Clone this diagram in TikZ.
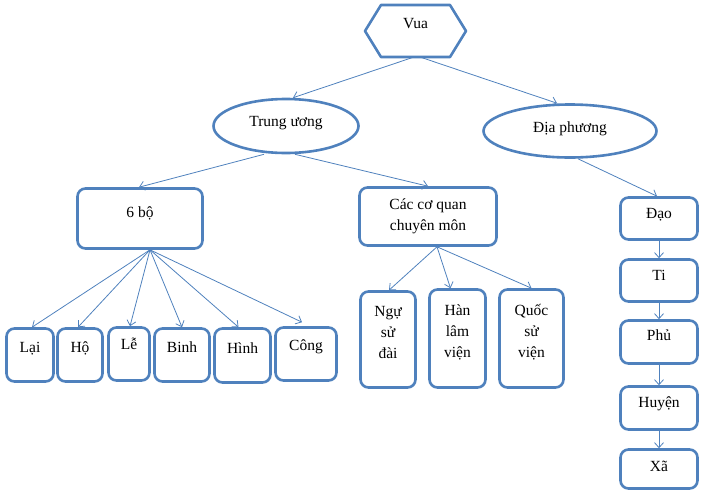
\documentclass[tikz,border=0pt]{standalone}
\usepackage{fontspec}
\setmainfont{Liberation Serif}
\usetikzlibrary{shapes.geometric,arrows.meta}
\definecolor{ob}{RGB}{79,129,189}
\newcommand{\tx}[2]{\raisebox{#1}[0pt][0pt]{\begin{tabular}{@{}c@{}}#2\end{tabular}}}
\begin{document}
\begin{tikzpicture}[x=1pt,y=-1pt,
  font=\fontsize{15.5}{21}\selectfont,
  box/.style={draw=ob, line width=2.6pt, rounded corners=8pt, fill=white, inner sep=0pt},
  oval/.style={ellipse, draw=ob, line width=2.6pt, fill=white, inner sep=0pt},
  arr/.style={draw=ob, line width=0.8pt, -{Straight Barb[length=5pt,width=9pt]}}]
\useasboundingbox (0,0) rectangle (708,496);
% King
\draw[draw=ob, line width=2.6pt, line join=round, fill=white]
  (365,31) -- (381,5) -- (450,5) -- (466,31) -- (450,57) -- (381,57) -- cycle;
\node[inner sep=0pt, minimum width=101pt, minimum height=52pt] (vua) at (415.5,31) {\tx{3pt}{Vua}};
% level 2
\node[oval, minimum width=145pt, minimum height=54pt] (tw) at (286,126) {\tx{0pt}{Trung ương}};
\node[oval, minimum width=173pt, minimum height=53pt] (dp) at (570,131) {\tx{-1pt}{Địa phương}};
% level 3
\node[box, minimum width=125pt, minimum height=60pt] (sixbo) at (140,218.5) {\tx{2pt}{6 bộ}};
\node[box, minimum width=137pt, minimum height=58pt] (cq) at (428,216.5) {\tx{-2.5pt}{Các cơ quan\\chuyên môn}};
% six ministries
\node[box, minimum width=47pt, minimum height=53pt] (lai) at (30,355) {\tx{3pt}{Lại}};
\node[box, minimum width=45pt, minimum height=53pt] (ho) at (80,355) {\tx{3pt}{Hộ}};
\node[box, minimum width=41pt, minimum height=53pt] (le) at (129,354) {\tx{5pt}{Lễ}};
\node[box, minimum width=55pt, minimum height=53pt] (binh) at (182,355) {\tx{3pt}{Binh}};
\node[box, minimum width=56pt, minimum height=54pt] (hinh) at (242.5,355.5) {\tx{3pt}{Hình}};
\node[box, minimum width=61pt, minimum height=53pt] (cong) at (306,354) {\tx{4pt}{Công}};
% specialised bodies
\node[box, minimum width=55pt, minimum height=96pt] (ngu) at (388,339.5) {\tx{3pt}{Ngự\\sử\\đài}};
\node[box, minimum width=56pt, minimum height=98pt] (han) at (457.5,338.5) {\tx{3pt}{Hàn\\lâm\\viện}};
\node[box, minimum width=64pt, minimum height=98pt] (quoc) at (531.5,338.5) {\tx{3pt}{Quốc\\sử\\viện}};
% local column
\node[box, minimum width=77pt, minimum height=42pt] (dao) at (659,218.5) {\tx{1pt}{Đạo}};
\node[box, minimum width=77pt, minimum height=42pt] (ti) at (659,280.5) {\tx{1pt}{Ti}};
\node[box, minimum width=77pt, minimum height=43pt] (phu) at (659,342) {\tx{2pt}{Phủ}};
\node[box, minimum width=77pt, minimum height=43pt] (huyen) at (659,408) {\tx{1pt}{Huyện}};
\node[box, minimum width=77pt, minimum height=39pt] (xa) at (659,469) {\tx{-2pt}{Xã}};
% connectors
\draw[arr] ([xshift=-2pt]vua.south) -- ([xshift=7pt]tw.north);
\draw[arr] ([xshift=5pt]vua.south) -- ([xshift=-13pt]dp.north);
\draw[arr] ([xshift=-22pt]tw.south) -- ([xshift=-1pt]sixbo.north);
\draw[arr] ([xshift=9pt]tw.south) -- (cq.north);
\draw[arr] ([xshift=8pt]dp.south) -- ([xshift=-2pt]dao.north);
\draw[arr] ([xshift=10pt]sixbo.south) -- ([xshift=2pt]lai.north);
\draw[arr] ([xshift=10pt]sixbo.south) -- ([xshift=-2pt]ho.north);
\draw[arr] ([xshift=10pt]sixbo.south) -- ([xshift=1pt]le.north);
\draw[arr] ([xshift=10pt]sixbo.south) -- (binh.north);
\draw[arr] ([xshift=10pt]sixbo.south) -- ([xshift=-4pt]hinh.north);
\draw[arr] ([xshift=10pt]sixbo.south) -- ([xshift=-4pt,yshift=4pt]cong.north);
\draw[arr] ([xshift=9pt]cq.south) -- ([xshift=1pt]ngu.north);
\draw[arr] ([xshift=9pt]cq.south) -- ([xshift=-7pt]han.north);
\draw[arr] ([xshift=9pt]cq.south) -- (quoc.north);
\draw[arr] (dao.south) -- (ti.north);
\draw[arr] (ti.south) -- (phu.north);
\draw[arr] (phu.south) -- (huyen.north);
\draw[arr] (huyen.south) -- (xa.north);
\end{tikzpicture}
\end{document}
